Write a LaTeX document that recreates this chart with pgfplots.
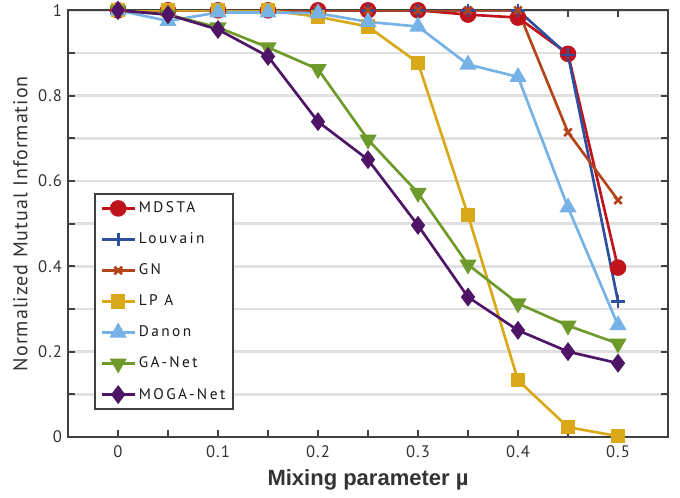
\documentclass[border=0pt]{standalone}
\usepackage{fontspec}
\setmainfont{PT Sans}
\newfontfamily\labfont{Liberation Sans}
\usepackage{pgfplots}
\pgfplotsset{compat=1.18}
\definecolor{cMD}{HTML}{C0141C}
\definecolor{cLV}{HTML}{2E4FA0}
\definecolor{cGN}{HTML}{B5441B}
\definecolor{cLP}{HTML}{D9A91A}
\definecolor{cDN}{HTML}{76B2E6}
\definecolor{cGA}{HTML}{6E9A2B}
\definecolor{cMO}{HTML}{4E1566}
\definecolor{axc}{HTML}{404040}
\definecolor{txt}{HTML}{333333}
\definecolor{grd}{HTML}{E0E0E0}
\begin{document}
\begin{tikzpicture}
\begin{axis}[
  scale only axis, width=450pt, height=320pt,
  xmin=-0.05, xmax=0.55, ymin=0, ymax=1,
  xtick={0,0.1,0.2,0.3,0.4,0.5},
  xticklabels={0,0.1,0.2,0.3,0.4,0.5},
  minor xtick={0.05,0.15,0.25,0.35,0.45},
  ytick={0,0.2,0.4,0.6,0.8,1},
  yticklabels={0,0.2,0.4,0.6,0.8,1},
  minor ytick={0.1,0.3,0.5,0.7,0.9},
  ymajorgrids, yminorgrids,
  major grid style={grd, line width=2.2pt},
  minor grid style={grd, line width=2.2pt},
  axis line style={axc, line width=1.6pt},
  tick style={axc, line width=1.6pt},
  major tick length=5pt, minor tick length=5pt,
  tick align=inside,
  ticklabel style={font=\fontsize{12.5}{15}\selectfont\addfontfeatures{LetterSpace=6}, text=txt},
  xticklabel style={yshift=-3pt},
  yticklabel style={xshift=-1pt},
  /pgf/number format/assume math mode=true,
  xlabel={\labfont\bfseries Mixing parameter µ},
  xlabel style={font=\fontsize{16.5}{18}\selectfont, text=txt, yshift=-2pt},
  ylabel={\addfontfeatures{LetterSpace=5}Normalized Mutual Information},
  ylabel style={font=\fontsize{15}{17}\selectfont, text=txt, yshift=1pt},
  legend style={at={(0.043,0.063)}, anchor=south west, draw=axc,
    line width=1.6pt, fill=white, font=\fontsize{11.5}{13}\selectfont\addfontfeatures{LetterSpace=16},
    text=black!90, row sep=9.6pt, inner sep=4pt, cells={anchor=west}},
  legend image code/.code={\draw[#1, mark=none] (0pt,0pt) -- (25pt,0pt);
    \draw[#1, only marks] plot coordinates {(12.5pt,0pt)};},
  every axis plot/.append style={line width=2pt},
]
\addplot[cMD, mark=*, mark size=5.2pt, mark options={solid, fill=cMD}] coordinates {
(0,1)(0.05,1)(0.1,1)(0.15,1)(0.2,1)(0.25,1)(0.3,1)(0.35,0.99)(0.4,0.983)(0.45,0.898)(0.5,0.397)};
\addlegendentry{MDSTA}
\addplot[cLV, mark=+, mark size=5pt] coordinates {
(0,1)(0.05,1)(0.1,1)(0.15,1)(0.2,1)(0.25,1)(0.3,1)(0.35,1)(0.4,1)(0.45,0.895)(0.5,0.318)};
\addlegendentry{Louvain}
\addplot[cGN, mark=x, mark size=4pt] coordinates {
(0,1)(0.05,1)(0.1,1)(0.15,1)(0.2,1)(0.25,1)(0.3,1)(0.35,1)(0.4,1)(0.45,0.714)(0.5,0.555)};
\addlegendentry{GN}
\addplot[cLP, mark=square*, mark size=4.3pt, mark options={fill=cLP}] coordinates {
(0,1)(0.05,1)(0.1,1)(0.15,1)(0.2,0.985)(0.25,0.962)(0.3,0.877)(0.35,0.52)(0.4,0.133)(0.45,0.023)(0.5,0.002)};
\addlegendentry{LP A}
\addplot[cDN, mark=triangle*, mark size=5.5pt, mark options={fill=cDN}] coordinates {
(0,1)(0.05,0.975)(0.1,0.995)(0.15,0.995)(0.2,0.993)(0.25,0.973)(0.3,0.962)(0.35,0.873)(0.4,0.844)(0.45,0.538)(0.5,0.262)};
\addlegendentry{Danon}
\addplot[cGA, mark=triangle*, mark size=5.5pt, mark options={fill=cGA, rotate=180}] coordinates {
(0,1)(0.05,0.99)(0.1,0.96)(0.15,0.913)(0.2,0.862)(0.25,0.697)(0.3,0.572)(0.35,0.404)(0.4,0.313)(0.45,0.261)(0.5,0.219)};
\addlegendentry{GA-Net}
\addplot[cMO, mark=diamond*, mark size=5.5pt, mark options={fill=cMO}] coordinates {
(0,1)(0.05,0.99)(0.1,0.955)(0.15,0.892)(0.2,0.739)(0.25,0.65)(0.3,0.496)(0.35,0.328)(0.4,0.25)(0.45,0.2)(0.5,0.173)};
\addlegendentry{MOGA-Net}
\end{axis}
\pgfresetboundingbox
\path (-51pt,-45.75pt) rectangle (459pt,327.75pt);
\end{tikzpicture}
\end{document}
